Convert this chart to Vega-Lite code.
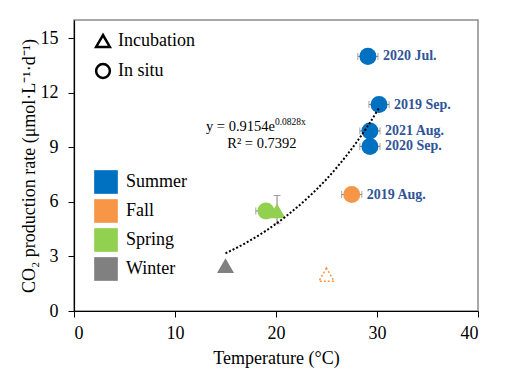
{
  "$schema": "https://vega.github.io/schema/vega-lite/v6.json",
  "width": 404,
  "height": 291,
  "autosize": {"type": "none"},
  "padding": {"left": 74, "top": 20, "right": 32, "bottom": 65},
  "background": "white",
  "config": {
    "font": "Liberation Serif",
    "view": {"stroke": "#8c8c8c", "strokeWidth": 1.5},
    "axis": {"grid": false, "domainColor": "black", "tickColor": "black", "labelColor": "black", "titleColor": "black", "labelFont": "Liberation Serif", "titleFont": "Liberation Serif", "labelFontSize": 18, "titleFontSize": 18, "titleFontWeight": "normal", "tickSize": 6, "domainWidth": 1.2},
    "legend": {"labelFont": "Liberation Serif"}
  },
  "datasets": {
    "pts": [
      {"season": "Summer", "method": "In situ", "temp": 29.1, "rate": 14.0, "label": "2020 Jul.", "tlo": 28.1, "thi": 30.1},
      {"season": "Summer", "method": "In situ", "temp": 30.2, "rate": 11.35, "label": "2019 Sep.", "tlo": 29.2, "thi": 31.2},
      {"season": "Summer", "method": "In situ", "temp": 29.3, "rate": 9.9, "label": "2021 Aug.", "tlo": 28.3, "thi": 30.3},
      {"season": "Summer", "method": "In situ", "temp": 29.3, "rate": 9.05, "label": "2020 Sep.", "tlo": 28.3, "thi": 30.3},
      {"season": "Fall", "method": "In situ", "temp": 27.5, "rate": 6.4, "label": "2019 Aug.", "tlo": 26.5, "thi": 28.5},
      {"season": "Spring", "method": "In situ", "temp": 19.0, "rate": 5.5, "label": "", "tlo": 18.0, "thi": 20.0},
      {"season": "Spring", "method": "Incubation", "temp": 20.1, "rate": 5.5, "label": "", "rlo": 4.8, "rhi": 6.35},
      {"season": "Winter", "method": "Incubation", "temp": 15.0, "rate": 2.5, "label": ""}
    ],
    "dotted": [
      {"season": "Fall", "method": "Incubation", "temp": 25.0, "rate": 2.0}
    ],
    "fit": [
      {"temp": 15.0, "rate": 3.17},
      {"temp": 17.0, "rate": 3.74},
      {"temp": 19.0, "rate": 4.41},
      {"temp": 21.0, "rate": 5.21},
      {"temp": 23.0, "rate": 6.15},
      {"temp": 25.0, "rate": 7.25},
      {"temp": 27.0, "rate": 8.56},
      {"temp": 29.0, "rate": 10.1},
      {"temp": 30.2, "rate": 11.16}
    ],
    "eq": [
      {"temp": 19.9, "rate": 10.1, "txt": "y = 0.9154e", "sup": "0.0828x", "r2": "R² = 0.7392", "rate2": 9.2, "temp2": 18.6}
    ]
  },
  "layer": [
    {
      "data": {"name": "pts"},
      "transform": [{"filter": "isValid(datum.tlo)"}],
      "mark": {"type": "rule", "color": "#7f7f7f", "strokeWidth": 1},
      "encoding": {
        "x": {"field": "tlo", "type": "quantitative", "scale": {"domain": [0, 40]}, "axis": {"values": [0, 10, 20, 30, 40], "title": "Temperature (°C)", "labelPadding": 7, "titlePadding": 7}},
        "x2": {"field": "thi"},
        "y": {"field": "rate", "type": "quantitative", "scale": {"domain": [0, 15]}, "axis": {"values": [0, 3, 6, 9, 12, 15], "title": "CO₂ production rate (μmol·L⁻¹·d⁻¹)", "labelPadding": 10, "titlePadding": 2}}
      }
    },
    {
      "data": {"name": "pts"},
      "transform": [{"filter": "isValid(datum.tlo)"}, {"fold": ["tlo", "thi"], "as": ["k", "cap"]}],
      "mark": {"type": "tick", "orient": "vertical", "color": "#7f7f7f", "size": 7, "thickness": 1},
      "encoding": {
        "x": {"field": "cap", "type": "quantitative"},
        "y": {"field": "rate", "type": "quantitative"}
      }
    },
    {
      "data": {"name": "pts"},
      "transform": [{"filter": "isValid(datum.rlo)"}],
      "mark": {"type": "rule", "color": "#7f7f7f", "strokeWidth": 1},
      "encoding": {
        "x": {"field": "temp", "type": "quantitative"},
        "y": {"field": "rlo", "type": "quantitative"},
        "y2": {"field": "rhi"}
      }
    },
    {
      "data": {"name": "pts"},
      "transform": [{"filter": "isValid(datum.rlo)"}, {"fold": ["rlo", "rhi"], "as": ["k", "cap"]}],
      "mark": {"type": "tick", "orient": "horizontal", "color": "#7f7f7f", "size": 7, "thickness": 1},
      "encoding": {
        "x": {"field": "temp", "type": "quantitative"},
        "y": {"field": "cap", "type": "quantitative"}
      }
    },
    {
      "data": {"name": "pts"},
      "mark": {"type": "point", "filled": true, "opacity": 1, "size": 290},
      "encoding": {
        "x": {"field": "temp", "type": "quantitative"},
        "y": {"field": "rate", "type": "quantitative"},
        "color": {"field": "season", "type": "nominal", "scale": {"domain": ["Summer", "Fall", "Spring", "Winter"], "range": ["#0070C0", "#F79646", "#92D050", "#808080"]},
          "legend": {"title": null, "orient": "none", "legendX": 20, "legendY": 150, "symbolType": "square", "symbolSize": 560, "symbolStrokeWidth": 0, "symbolOpacity": 1, "labelFontSize": 18, "labelFont": "Liberation Serif", "labelColor": "black", "labelOffset": 8, "rowPadding": 5, "padding": 0}},
        "shape": {"field": "method", "type": "nominal", "scale": {"domain": ["Incubation", "In situ"], "range": ["triangle-up", "circle"]},
          "legend": {"title": null, "orient": "none", "legendX": 20, "legendY": 12, "symbolSize": 190, "symbolFillColor": "transparent", "symbolStrokeColor": "black", "symbolStrokeWidth": 2.5, "labelFontSize": 18, "labelFont": "Liberation Serif", "labelColor": "black", "labelOffset": 6, "rowPadding": 7, "padding": 0}}
      }
    },
    {
      "data": {"name": "dotted"},
      "mark": {"type": "point", "shape": "triangle-up", "filled": false, "size": 230, "color": "#F79646", "strokeWidth": 1.5, "strokeDash": [2, 2], "opacity": 1},
      "encoding": {
        "x": {"field": "temp", "type": "quantitative"},
        "y": {"field": "rate", "type": "quantitative"}
      }
    },
    {
      "data": {"name": "fit"},
      "mark": {"type": "line", "color": "black", "strokeWidth": 2, "strokeDash": [2, 2], "interpolate": "monotone"},
      "encoding": {
        "x": {"field": "temp", "type": "quantitative"},
        "y": {"field": "rate", "type": "quantitative"}
      }
    },
    {
      "data": {"name": "pts"},
      "mark": {"type": "text", "align": "left", "baseline": "middle", "dx": 15, "dy": 0, "fontWeight": "bold", "fontSize": 14, "color": "#2F5597", "font": "Liberation Serif"},
      "encoding": {
        "x": {"field": "temp", "type": "quantitative"},
        "y": {"field": "rate", "type": "quantitative"},
        "text": {"field": "label"}
      }
    },
    {
      "data": {"name": "eq"},
      "mark": {"type": "text", "align": "right", "baseline": "middle", "fontSize": 14.5, "color": "black", "font": "Liberation Serif"},
      "encoding": {
        "x": {"field": "temp", "type": "quantitative"},
        "y": {"field": "rate", "type": "quantitative"},
        "text": {"field": "txt"}
      }
    },
    {
      "data": {"name": "eq"},
      "mark": {"type": "text", "align": "left", "baseline": "middle", "fontSize": 9.5, "dy": -5, "color": "black", "font": "Liberation Serif"},
      "encoding": {
        "x": {"field": "temp", "type": "quantitative"},
        "y": {"field": "rate", "type": "quantitative"},
        "text": {"field": "sup"}
      }
    },
    {
      "data": {"name": "eq"},
      "mark": {"type": "text", "align": "center", "baseline": "middle", "fontSize": 14.5, "color": "black", "font": "Liberation Serif"},
      "encoding": {
        "x": {"field": "temp2", "type": "quantitative"},
        "y": {"field": "rate2", "type": "quantitative"},
        "text": {"field": "r2"}
      }
    }
  ],
  "resolve": {"legend": {"color": "independent", "shape": "independent"}}
}
